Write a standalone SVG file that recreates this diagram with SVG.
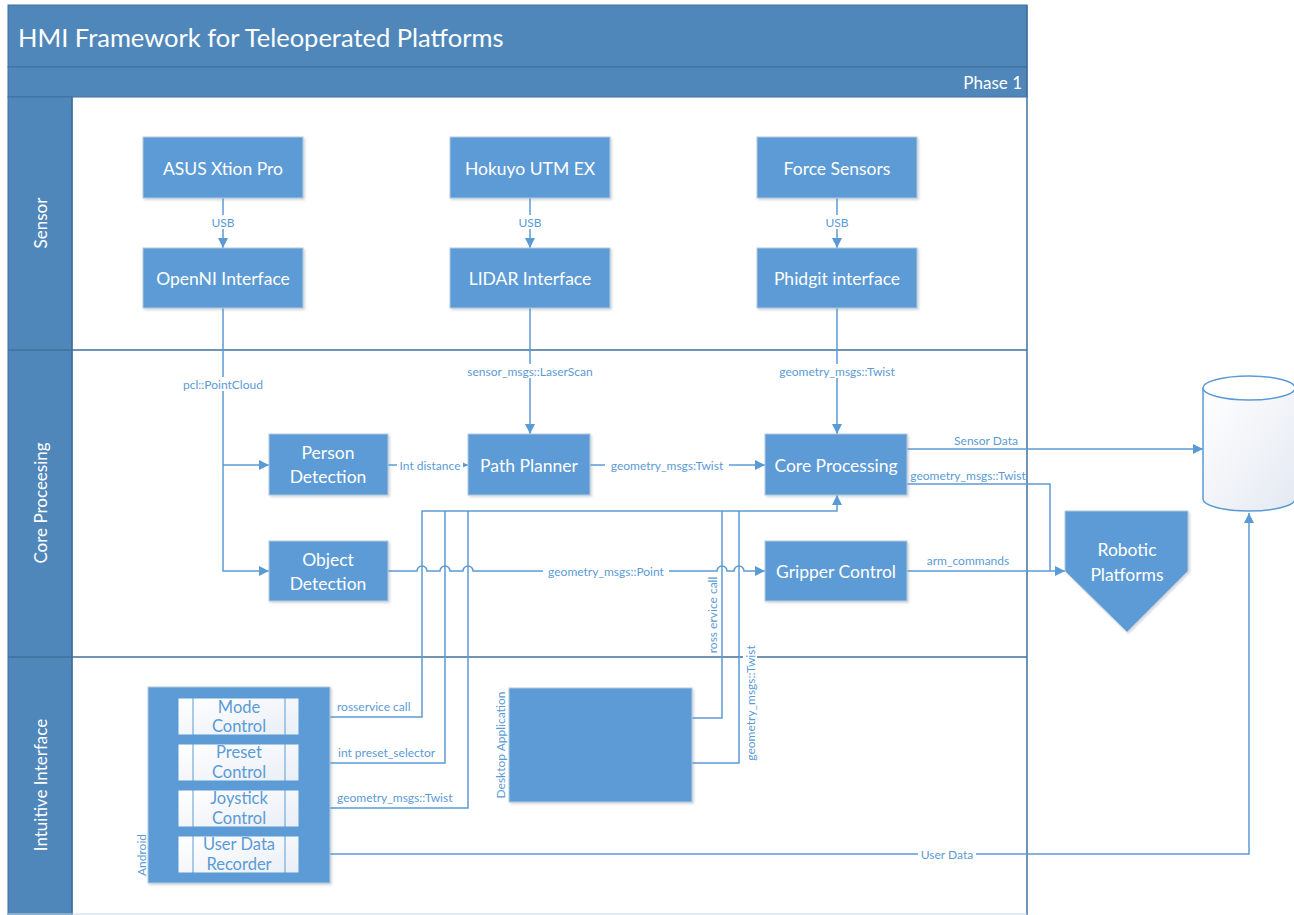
<svg xmlns="http://www.w3.org/2000/svg" width="1294" height="915" viewBox="0 0 1294 915">
  <defs>
    <marker id="arr" viewBox="0 0 10 10" refX="10" refY="5" markerWidth="10" markerHeight="10" markerUnits="userSpaceOnUse" orient="auto">
      <path d="M0,0 L10,5 L0,10 Z" fill="#5b9bd5"/>
    </marker>
    <marker id="arrS" viewBox="0 0 10 10" refX="10" refY="5" markerWidth="6" markerHeight="6" markerUnits="userSpaceOnUse" orient="auto">
      <path d="M0,0 L10,5 L0,10 Z" fill="#5b9bd5"/>
    </marker>
    <linearGradient id="cyl" x1="0" y1="0" x2="1" y2="1">
      <stop offset="0" stop-color="#ffffff"/>
      <stop offset="1" stop-color="#e4e9f2"/>
    </linearGradient>
    <linearGradient id="item" x1="0" y1="0" x2="1" y2="1">
      <stop offset="0" stop-color="#ffffff"/>
      <stop offset="1" stop-color="#e9eef6"/>
    </linearGradient>
    <filter id="sh" x="-10%" y="-10%" width="130%" height="130%">
      <feDropShadow dx="1.5" dy="1.5" stdDeviation="1.2" flood-color="#7f8c99" flood-opacity="0.35"/>
    </filter>
    <style>
      .hdr { fill: #4f87ba; stroke: #41719c; stroke-width: 1; }
      .sep { stroke: #41719c; stroke-width: 1.5; fill: none; }
      .node { fill: #5b9bd5; stroke: #b4c9de; stroke-width: 1; filter: url(#sh); }
      .ntext { font-family: Lato, "Open Sans", sans-serif; font-size: 17.5px; fill: #ffffff; text-anchor: middle; dominant-baseline: central; }
      .lane { font-family: Lato, "Open Sans", sans-serif; font-size: 17px; fill: #ffffff; text-anchor: middle; dominant-baseline: central; }
      .con { stroke: #5b9bd5; stroke-width: 1.5; fill: none; }
      .lbl { font-family: Lato, "Open Sans", sans-serif; font-size: 12px; fill: #5b9bd5; text-anchor: middle; dominant-baseline: central; }
      .lbl-l { font-family: Lato, "Open Sans", sans-serif; font-size: 12px; fill: #5b9bd5; text-anchor: start; dominant-baseline: central; }
      .bg { fill: #ffffff; }
      .itm { fill: url(#item); stroke: #5b9bd5; stroke-width: 1; }
      .itext { font-family: Lato, "Open Sans", sans-serif; font-size: 16.5px; fill: #5b9bd5; text-anchor: middle; dominant-baseline: central; }
    </style>
  </defs>

  <rect width="1294" height="915" fill="#ffffff"/>

  <!-- swimlane frame -->
  <g id="frame">
    <rect x="8" y="5" width="1019" height="62" class="hdr"/>
    <rect x="8" y="67" width="1019" height="30" class="hdr"/>
    <rect x="8" y="97" width="64" height="820" class="hdr"/>
    <text x="18" y="37" font-family="Lato, 'Open Sans', sans-serif" font-size="25.5" fill="#ffffff" dominant-baseline="central">HMI Framework for Teleoperated Platforms</text>
    <text x="1022" y="82" font-family="Lato, 'Open Sans', sans-serif" font-size="17" fill="#ffffff" text-anchor="end" dominant-baseline="central">Phase 1</text>
    <line x1="1027" y1="5" x2="1027" y2="915" class="sep"/>
    <line x1="72" y1="97" x2="72" y2="915" class="sep"/>
    <line x1="8" y1="350" x2="1027" y2="350" class="sep"/>
    <line x1="8" y1="657" x2="1027" y2="657" class="sep"/>
    <line x1="8" y1="914" x2="1027" y2="914" stroke="#c9d6e4" stroke-width="1"/>
    <text class="lane" transform="translate(40,223) rotate(-90)">Sensor</text>
    <text class="lane" transform="translate(40,503) rotate(-90)">Core Proceesing</text>
    <text class="lane" transform="translate(40,785) rotate(-90)">Intuitive Interface</text>
  </g>

  <!-- connectors -->
  <g id="connectors">
    <!-- sensor lane: USB links -->
    <line x1="223" y1="198" x2="223" y2="248" class="con" marker-end="url(#arr)"/>
    <line x1="530" y1="198" x2="530" y2="248" class="con" marker-end="url(#arr)"/>
    <line x1="837" y1="198" x2="837" y2="248" class="con" marker-end="url(#arr)"/>
    <rect x="211" y="215" width="24" height="14" class="bg"/>
    <rect x="518" y="215" width="24" height="14" class="bg"/>
    <rect x="825" y="215" width="24" height="14" class="bg"/>
    <text x="223" y="222" class="lbl" font-size="11">USB</text>
    <text x="530" y="222" class="lbl" font-size="11">USB</text>
    <text x="837" y="222" class="lbl" font-size="11">USB</text>

    <!-- point cloud branches -->
    <path d="M223,308 V571 H269" class="con" marker-end="url(#arr)"/>
    <path d="M223,465 H269" class="con" marker-end="url(#arr)"/>
    <rect x="181" y="377" width="84" height="14" class="bg"/>
    <text x="223" y="384" class="lbl">pcl::PointCloud</text>

    <!-- laser scan -->
    <line x1="530" y1="308" x2="530" y2="434" class="con" marker-end="url(#arr)"/>
    <rect x="462" y="364" width="136" height="14" class="bg"/>
    <text x="530" y="371" class="lbl">sensor_msgs::LaserScan</text>

    <!-- phidgit twist -->
    <line x1="837" y1="308" x2="837" y2="434" class="con" marker-end="url(#arr)"/>
    <rect x="774" y="364" width="126" height="14" class="bg"/>
    <text x="837" y="371" class="lbl">geometry_msgs::Twist</text>

    <!-- person detection -> path planner -->
    <line x1="388" y1="465" x2="468" y2="465" class="con" marker-end="url(#arrS)"/>
    <rect x="397" y="458" width="66" height="14" class="bg"/>
    <text x="430" y="465" class="lbl">Int distance</text>

    <!-- path planner -> core processing -->
    <line x1="590" y1="465" x2="765" y2="465" class="con" marker-end="url(#arr)"/>
    <rect x="605" y="458" width="124" height="14" class="bg"/>
    <text x="667" y="465" class="lbl">geometry_msgs:Twist</text>

    <!-- core processing -> storage -->
    <line x1="907" y1="449" x2="1203" y2="449" class="con" marker-end="url(#arr)"/>
    <text x="986" y="440" class="lbl">Sensor Data</text>

    <!-- core processing -> robotic platforms -->
    <path d="M907,484 H1050 V571" class="con"/>
    <text x="968" y="475" class="lbl">geometry_msgs::Twist</text>

    <!-- gripper -> robotic platforms -->
    <line x1="907" y1="571" x2="1065" y2="571" class="con" marker-end="url(#arr)"/>
    <text x="968" y="560" class="lbl">arm_commands</text>

    <!-- interface lines up to core processing -->
    <path d="M330,717 H422 V511 H837 V495" class="con" marker-end="url(#arr)"/>
    <path d="M330,763 H445 V511" class="con"/>
    <path d="M330,808 H468 V511" class="con"/>
    <path d="M692,718 H722 V511" class="con"/>
    <path d="M692,763 H739 V511" class="con"/>

    <!-- object detection -> gripper control with line jumps -->
    <path d="M388,571 H417 a5,5 0 0 1 10,0 H440 a5,5 0 0 1 10,0 H463 a5,5 0 0 1 10,0 H717 a5,5 0 0 1 10,0 H734 a5,5 0 0 1 10,0 H765" class="con" marker-end="url(#arr)"/>
    <rect x="543" y="564" width="126" height="14" class="bg"/>
    <text x="606" y="571" class="lbl">geometry_msgs::Point</text>

    <!-- desktop labels -->
    <text class="lbl" transform="translate(712,615) rotate(-90)">ross ervice call</text>
    <rect x="743" y="642" width="14" height="122" class="bg"/>
    <text class="lbl" transform="translate(750,703) rotate(-90)">geometry_msgs::Twist</text>

    <!-- android labels -->
    <text x="337" y="706" class="lbl-l">rosservice call</text>
    <text x="338" y="752" class="lbl-l">int preset_selector</text>
    <text x="337" y="797" class="lbl-l">geometry_msgs::Twist</text>

    <!-- user data -> storage -->
    <path d="M330,854 H1249 V513" class="con" marker-end="url(#arr)"/>
    <rect x="918" y="847" width="58" height="14" class="bg"/>
    <text x="947" y="854" class="lbl">User Data</text>
  </g>

  <!-- sensor lane nodes -->
  <g id="asus"><rect x="143" y="137" width="160" height="61" class="node"/><text x="223" y="168" class="ntext">ASUS Xtion Pro</text></g>
  <g id="openni"><rect x="143" y="248" width="160" height="60" class="node"/><text x="223" y="278" class="ntext">OpenNI Interface</text></g>
  <g id="hokuyo"><rect x="450" y="137" width="160" height="61" class="node"/><text x="530" y="168" class="ntext">Hokuyo UTM EX</text></g>
  <g id="lidar"><rect x="450" y="248" width="160" height="60" class="node"/><text x="530" y="278" class="ntext">LIDAR Interface</text></g>
  <g id="force"><rect x="757" y="137" width="160" height="61" class="node"/><text x="837" y="168" class="ntext">Force Sensors</text></g>
  <g id="phidgit"><rect x="757" y="248" width="160" height="60" class="node"/><text x="837" y="278" class="ntext">Phidgit interface</text></g>

  <!-- core processing lane nodes -->
  <g id="person"><rect x="269" y="434" width="119" height="61" class="node"/><text x="328" y="452" class="ntext">Person</text><text x="328" y="476" class="ntext">Detection</text></g>
  <g id="object"><rect x="269" y="541" width="119" height="60" class="node"/><text x="328" y="559" class="ntext">Object</text><text x="328" y="583" class="ntext">Detection</text></g>
  <g id="path-planner"><rect x="468" y="434" width="122" height="61" class="node"/><text x="529" y="465" class="ntext">Path Planner</text></g>
  <g id="core"><rect x="765" y="434" width="142" height="61" class="node"/><text x="836" y="465" class="ntext">Core Processing</text></g>
  <g id="gripper"><rect x="765" y="541" width="142" height="60" class="node"/><text x="836" y="571" class="ntext">Gripper Control</text></g>

  <g id="robotic">
    <path d="M1065,511 H1188 V571 L1127,632 L1065,571 Z" class="node"/>
    <text x="1127" y="549" class="ntext" font-size="20">Robotic</text>
    <text x="1127" y="574" class="ntext" font-size="20">Platforms</text>
  </g>

  <g id="storage">
    <path d="M1203,388 V499 A46,12 0 0 0 1295,499 V388 Z" fill="url(#cyl)" stroke="#5b9bd5" stroke-width="1.5"/>
    <path d="M1203,388 A46,12 0 0 1 1295,388 A46,12 0 0 1 1203,388 Z" fill="#ffffff" stroke="#5b9bd5" stroke-width="1.5"/>
  </g>

  <!-- intuitive interface lane nodes -->
  <g id="android">
    <rect x="148" y="687" width="182" height="196" class="node"/>
    <text class="lbl" transform="translate(141,855) rotate(-90)">Android</text>
  </g>
  <g id="mode-control">
    <rect x="178" y="698" width="121" height="37" class="itm"/>
    <line x1="193" y1="698" x2="193" y2="735" stroke="#5b9bd5"/><line x1="285" y1="698" x2="285" y2="735" stroke="#5b9bd5"/>
    <text x="239" y="707" class="itext">Mode</text><text x="239" y="726" class="itext">Control</text>
  </g>
  <g id="preset-control">
    <rect x="178" y="744" width="121" height="37" class="itm"/>
    <line x1="193" y1="744" x2="193" y2="781" stroke="#5b9bd5"/><line x1="285" y1="744" x2="285" y2="781" stroke="#5b9bd5"/>
    <text x="239" y="752" class="itext">Preset</text><text x="239" y="772" class="itext">Control</text>
  </g>
  <g id="joystick-control">
    <rect x="178" y="790" width="121" height="37" class="itm"/>
    <line x1="193" y1="790" x2="193" y2="827" stroke="#5b9bd5"/><line x1="285" y1="790" x2="285" y2="827" stroke="#5b9bd5"/>
    <text x="239" y="798" class="itext">Joystick</text><text x="239" y="818" class="itext">Control</text>
  </g>
  <g id="user-data-recorder">
    <rect x="178" y="836" width="121" height="37" class="itm"/>
    <line x1="193" y1="836" x2="193" y2="873" stroke="#5b9bd5"/><line x1="285" y1="836" x2="285" y2="873" stroke="#5b9bd5"/>
    <text x="239" y="844" class="itext">User Data</text><text x="239" y="864" class="itext">Recorder</text>
  </g>
  <g id="desktop">
    <rect x="509" y="688" width="183" height="114" class="node"/>
    <text class="lbl" transform="translate(500,745) rotate(-90)">Desktop Application</text>
  </g>
</svg>
